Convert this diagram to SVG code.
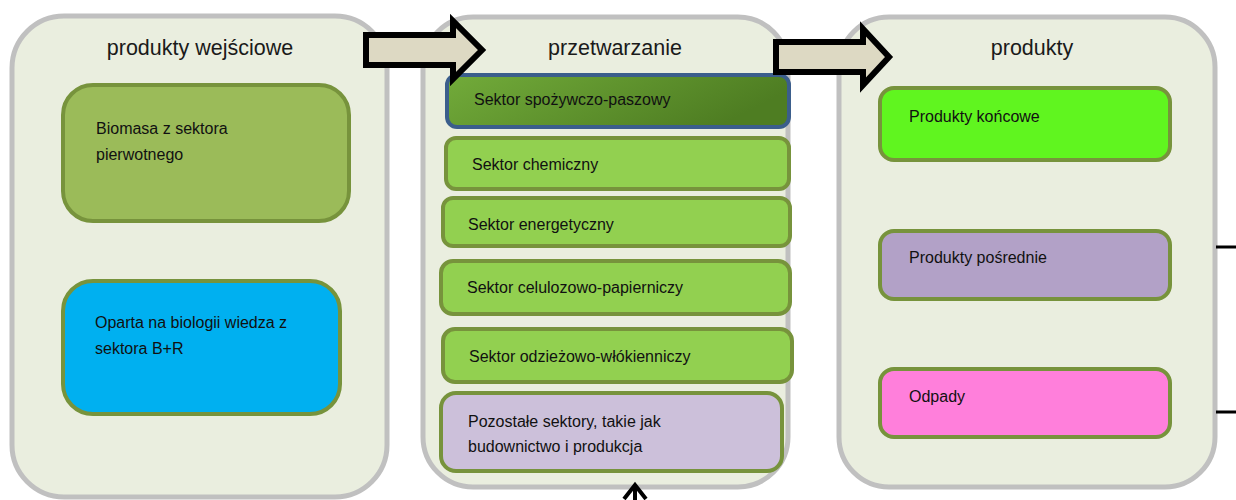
<svg xmlns="http://www.w3.org/2000/svg" width="1236" height="500" viewBox="0 0 1236 500">
<style>
.panel{fill:#eaeedf;stroke:#c0c0c0;stroke-width:5}
.title{font-family:"Liberation Sans",Arial,sans-serif;font-size:21.5px;fill:#1a1a1a;text-anchor:middle}
.lbl{font-family:"Liberation Sans",Arial,sans-serif;font-size:16px;fill:#111}
.box{stroke:#77933c;stroke-width:4}
.g{fill:#92d050}
.blk{fill:#ddd9c3;stroke:#000;stroke-width:6;stroke-linejoin:miter}
</style>
<defs>
<linearGradient id="gr" x1="0" y1="0" x2="1" y2="0.3">
<stop offset="0" stop-color="#72ab3a"/>
<stop offset="1" stop-color="#4e7d22"/>
</linearGradient>
</defs>
<g id="panel-wejscie">
<rect class="panel" x="12" y="16" width="375" height="481" rx="52"/>
<text class="title" x="200" y="55">produkty wejściowe</text>
</g>
<g id="panel-przetwarzanie">
<rect class="panel" x="423" y="17" width="365" height="470" rx="50"/>
<text class="title" x="615" y="55">przetwarzanie</text>
</g>
<g id="panel-produkty">
<rect class="panel" x="839" y="17" width="376" height="470" rx="50"/>
<text class="title" x="1032" y="55">produkty</text>
</g>
<g id="biomasa">
<rect class="box" x="63" y="85" width="286" height="136" rx="30" fill="#9bbb59"/>
<text class="lbl" x="96" y="134">Biomasa z sektora</text>
<text class="lbl" x="96" y="160">pierwotnego</text>
</g>
<g id="wiedza">
<rect class="box" x="63" y="281" width="277" height="133" rx="30" fill="#00b0f0"/>
<text class="lbl" x="95" y="328">Oparta na biologii wiedza z</text>
<text class="lbl" x="95" y="354">sektora B+R</text>
</g>
<g id="spozywczy">
<rect x="447" y="75" width="342" height="52" rx="10" fill="url(#gr)" stroke="#3b5e8c" stroke-width="4"/>
<text class="lbl" x="474" y="105">Sektor spożywczo-paszowy</text>
</g>
<g id="chemiczny">
<rect class="box g" x="446" y="138" width="343" height="51" rx="10"/>
<text class="lbl" x="472" y="170">Sektor chemiczny</text>
</g>
<g id="energetyczny">
<rect class="box g" x="443" y="198" width="347" height="48" rx="10"/>
<text class="lbl" x="468" y="230">Sektor energetyczny</text>
</g>
<g id="celulozowy">
<rect class="box g" x="441" y="261" width="349" height="53" rx="12"/>
<text class="lbl" x="467" y="293">Sektor celulozowo-papierniczy</text>
</g>
<g id="odziezowy">
<rect class="box g" x="443" y="329" width="349" height="53" rx="12"/>
<text class="lbl" x="469" y="362">Sektor odzieżowo-włókienniczy</text>
</g>
<g id="pozostale">
<rect class="box" x="441" y="393" width="341" height="78" rx="15" fill="#ccc0da"/>
<text class="lbl" x="468" y="427">Pozostałe sektory, takie jak</text>
<text class="lbl" x="468" y="452">budownictwo i produkcja</text>
</g>
<g id="koncowe">
<rect class="box" x="880" y="88" width="290" height="72" rx="14" fill="#60f51f"/>
<text class="lbl" x="909" y="122">Produkty końcowe</text>
</g>
<g id="posrednie">
<rect class="box" x="880" y="231" width="290" height="68" rx="14" fill="#b2a1c7"/>
<text class="lbl" x="909" y="263">Produkty pośrednie</text>
</g>
<g id="odpady">
<rect class="box" x="880" y="369" width="290" height="68" rx="14" fill="#ff7fdb"/>
<text class="lbl" x="909" y="402">Odpady</text>
</g>
<g id="connectors">
<polygon class="blk" points="366,35 453,35 453,21 482,50 453,79 453,65 366,65"/>
<polygon class="blk" points="776,42 863,42 863,29 889,57 863,85 863,72 776,72"/>
<line x1="635" y1="485" x2="635" y2="500" stroke="#000" stroke-width="4"/>
<polyline points="624,499 635,485 646,499" fill="none" stroke="#000" stroke-width="4"/>
<line x1="1216" y1="247" x2="1236" y2="247" stroke="#000" stroke-width="3"/>
<line x1="1216" y1="412" x2="1236" y2="412" stroke="#000" stroke-width="3"/>
</g>
</svg>
